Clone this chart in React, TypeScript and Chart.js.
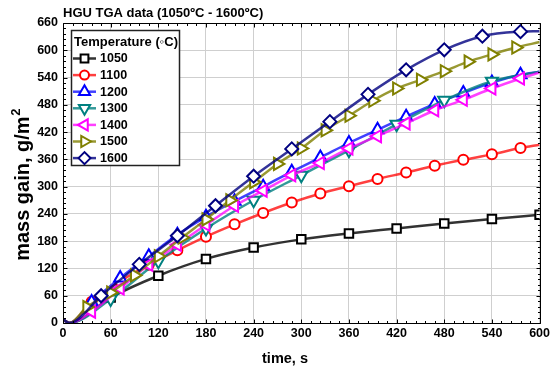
import { useEffect, useRef } from 'react';
import { Chart, registerables } from 'chart.js';
import { drawPoint } from 'chart.js/helpers';

Chart.register(...registerables);

const FONT = '"Liberation Sans", Arial, sans-serif';

const chartTitle = 'HGU TGA data (1050ºC - 1600ºC)';
const legendTitle = 'Temperature (◦C)';
const xTitle = 'time, s';
const yTitleMain = 'mass gain, g/m';
const yTitleSup = '2';

const temperatures = ['1050', '1100', '1200', '1300', '1400', '1500', '1600'];

const times1050 = [0, 8, 60, 120, 180, 240, 300, 360, 420, 480, 540, 600];
const mass1050 = [8, 0, 56, 104, 141, 166, 184, 197, 208, 219, 229, 238];

const times1100 = [0, 8, 36, 72, 108, 144, 180, 216, 252, 288, 324, 360, 396, 432, 468, 504, 540, 576, 600];
const mass1100 = [8, 0, 47, 92, 128, 160, 190, 217, 242, 265, 285, 301, 317, 331, 346, 359, 371, 385, 392];

const times1200 = [0, 8, 36, 72, 108, 144, 180, 216, 252, 288, 324, 360, 396, 432, 468, 504, 540, 576, 600];
const mass1200 = [8, 0, 46, 99, 147, 194, 234, 268, 300, 333, 364, 396, 425, 454, 482, 506, 529, 546, 553];

const times1300 = [0, 8, 60, 120, 180, 240, 300, 360, 420, 480, 540, 600];
const mass1300 = [8, 0, 53, 136, 208, 270, 325, 380, 437, 490, 532, 553];

const times1400 = [0, 8, 36, 72, 108, 144, 180, 216, 252, 288, 324, 360, 396, 432, 468, 504, 540, 576, 600];
const mass1400 = [8, 0, 25, 76, 128, 172, 216, 258, 291, 325, 352, 384, 411, 439, 468, 491, 516, 538, 551];

const times1500 = [0, 8, 30, 60, 90, 120, 150, 180, 210, 240, 270, 300, 330, 360, 390, 420, 450, 480, 510, 540, 570, 600];
const mass1500 = [8, 0, 35, 67, 105, 147, 188, 228, 270, 310, 350, 384, 424, 456, 489, 516, 535, 554, 575, 591, 606, 618];

const times1600 = [0, 8, 48, 96, 144, 192, 240, 288, 336, 384, 432, 480, 528, 576, 600];
const mass1600 = [8, 0, 60, 129, 192, 258, 323, 383, 443, 503, 557, 601, 631, 641, 642];

const allTimes = [times1050, times1100, times1200, times1300, times1400, times1500, times1600];
const allMass = [mass1050, mass1100, mass1200, mass1300, mass1400, mass1500, mass1600];
const markerAtEnd = [true, false, false, false, false, false, false];

const markerColors = ['#000000', '#ff0000', '#0000ff', '#008080', '#ff00ff', '#808000', '#000080'];
const lineColors = [
  'rgba(0,0,0,0.8)', 'rgba(255,0,0,0.75)', 'rgba(0,0,255,0.75)', 'rgba(0,128,128,0.8)',
  'rgba(255,0,255,0.75)', 'rgba(128,128,0,0.8)', 'rgba(0,0,128,0.8)',
];
const pointStyles = ['rect', 'circle', 'triangle', 'triangle', 'triangle', 'triangle', 'rectRot'];
const pointRotations = [0, 0, 0, 180, 270, 90, 0];
const pointRadii = [6, 5, 7, 7, 7, 7, 6.5];

const frameAndLabels = {
  id: 'frameAndLabels',
  afterDatasetsDraw(chart: any) {
    const { ctx, chartArea: a, scales } = chart;
    const x = scales.x;
    const y = scales.y;
    ctx.save();
    ctx.strokeStyle = '#000';
    ctx.lineWidth = 1;
    const L = Math.round(a.left) + 0.5;
    const R = Math.round(a.right) + 0.5;
    const T = Math.round(a.top) + 0.5;
    const B = Math.round(a.bottom) + 0.5;
    ctx.beginPath();
    ctx.rect(L, T, R - L, B - T);
    ctx.stroke();
    ctx.beginPath();
    for (let v = 0; v <= 660; v += 12) {
      const py = Math.round(y.getPixelForValue(v)) + 0.5;
      const len = v % 60 === 0 ? 4 : 2.5;
      ctx.moveTo(L, py); ctx.lineTo(L + len, py);
      ctx.moveTo(R, py); ctx.lineTo(R - len, py);
    }
    for (let t = 0; t <= 600; t += 12) {
      const px = Math.round(x.getPixelForValue(t)) + 0.5;
      const len = t % 60 === 0 ? 4 : 2.5;
      ctx.moveTo(px, B); ctx.lineTo(px, B - len);
      ctx.moveTo(px, T); ctx.lineTo(px, T + len);
    }
    ctx.stroke();
    ctx.restore();
  },
  afterDraw(chart: any) {
    const { ctx, chartArea: a } = chart;
    ctx.save();
    // axis titles
    ctx.fillStyle = '#000';
    ctx.font = `bold 14.5px ${FONT}`;
    ctx.textAlign = 'center';
    ctx.textBaseline = 'alphabetic';
    ctx.fillText(xTitle, a.left + 222, 363);

    ctx.save();
    ctx.translate(29, a.top + 162);
    ctx.rotate(-Math.PI / 2);
    ctx.font = `bold 20px ${FONT}`;
    const wMain = ctx.measureText(yTitleMain).width;
    ctx.font = `bold 13px ${FONT}`;
    const wSup = ctx.measureText(yTitleSup).width;
    const start = -(wMain + wSup) / 2;
    ctx.textAlign = 'left';
    ctx.font = `bold 20px ${FONT}`;
    ctx.fillText(yTitleMain, start, 0);
    ctx.font = `bold 13px ${FONT}`;
    ctx.fillText(yTitleSup, start + wMain + 0.5, -9);
    ctx.restore();

    // legend
    const bx = a.left + 8;
    const by = a.top + 7;
    const bw = 108;
    const bh = 135;
    ctx.fillStyle = '#fff';
    ctx.fillRect(bx, by, bw, bh);
    ctx.strokeStyle = '#222';
    ctx.lineWidth = 1.5;
    ctx.strokeRect(bx + 0.5, by + 0.5, bw, bh);
    ctx.fillStyle = '#000';
    ctx.font = `bold 13px ${FONT}`;
    ctx.textAlign = 'left';
    ctx.textBaseline = 'middle';
    ctx.fillText(legendTitle, bx + 3, by + 12.5);
    ctx.font = `bold 12.5px ${FONT}`;
    chart.data.datasets.forEach((ds: any, i: number) => {
      const cy = by + 28.5 + i * 16.6;
      ctx.strokeStyle = lineColors[i];
      ctx.lineWidth = 2.5;
      ctx.beginPath();
      ctx.moveTo(bx + 2, cy);
      ctx.lineTo(bx + 25, cy);
      ctx.stroke();
      ctx.strokeStyle = markerColors[i];
      ctx.fillStyle = '#fff';
      ctx.lineWidth = 2;
      drawPoint(ctx, {
        pointStyle: pointStyles[i],
        radius: pointRadii[i] - 0.5,
        rotation: pointRotations[i],
        borderWidth: 2,
      } as any, bx + 13.5, cy);
      ctx.fillStyle = '#000';
      ctx.fillText(ds.label, bx + 29, cy + 0.5);
    });
    ctx.restore();
  },
};

export default function App() {
  const ref = useRef<HTMLCanvasElement>(null);
  useEffect(() => {
    document.body.style.margin = '0';
    if (!ref.current) return;
    const datasets = temperatures.map((label, i) => ({
      label,
      data: allTimes[i].map((t, j) => ({ x: t, y: allMass[i][j] })),
      borderColor: lineColors[i],
      borderWidth: 2.5,
      pointStyle: pointStyles[i],
      rotation: pointRotations[i],
      pointRotation: pointRotations[i],
      pointRadius: allTimes[i].map((t, j) => (j < 2 || (t === 600 && !markerAtEnd[i]) ? 0 : pointRadii[i])),
      pointBorderColor: markerColors[i],
      pointBackgroundColor: '#ffffff',
      pointBorderWidth: 2,
      cubicInterpolationMode: 'monotone' as const,
      fill: false,
      order: 7 - i,
    }));
    const chart = new Chart(ref.current, {
      type: 'line',
      data: { datasets },
      options: {
        animation: false,
        responsive: false,
        events: [],
        layout: { padding: { left: 0, right: 12, top: 0, bottom: 0 } },
        plugins: {
          legend: { display: false },
          tooltip: { enabled: false },
          title: {
            display: true,
            text: chartTitle,
            align: 'start',
            fullSize: false,
            color: '#000',
            font: { family: FONT, size: 13, weight: 'bold' },
            padding: { top: 6, bottom: 1.4 },
          },
        },
        scales: {
          x: {
            type: 'linear',
            min: 0,
            max: 600,
            ticks: {
              stepSize: 60,
              color: '#000',
              padding: 3,
              maxRotation: 0,
              font: { family: FONT, size: 12.5, weight: 'bold' },
            },
            grid: { color: '#cfcfcf', lineWidth: 1, drawTicks: false },
            border: { display: false },
            afterFit: (s: any) => { s.height = 43; },
          },
          y: {
            type: 'linear',
            min: 0,
            max: 660,
            ticks: {
              stepSize: 60,
              color: '#000',
              padding: 5,
              font: { family: FONT, size: 12.5, weight: 'bold' },
            },
            grid: { color: '#cfcfcf', lineWidth: 1, drawTicks: false },
            border: { display: false },
            afterFit: (s: any) => { s.width = 63; },
          },
        },
      },
      plugins: [frameAndLabels],
    });
    return () => chart.destroy();
  }, []);
  return (
    <div style={{ width: 553, height: 366 }}>
      <canvas ref={ref} width={553} height={366} style={{ display: 'block' }} />
    </div>
  );
}
